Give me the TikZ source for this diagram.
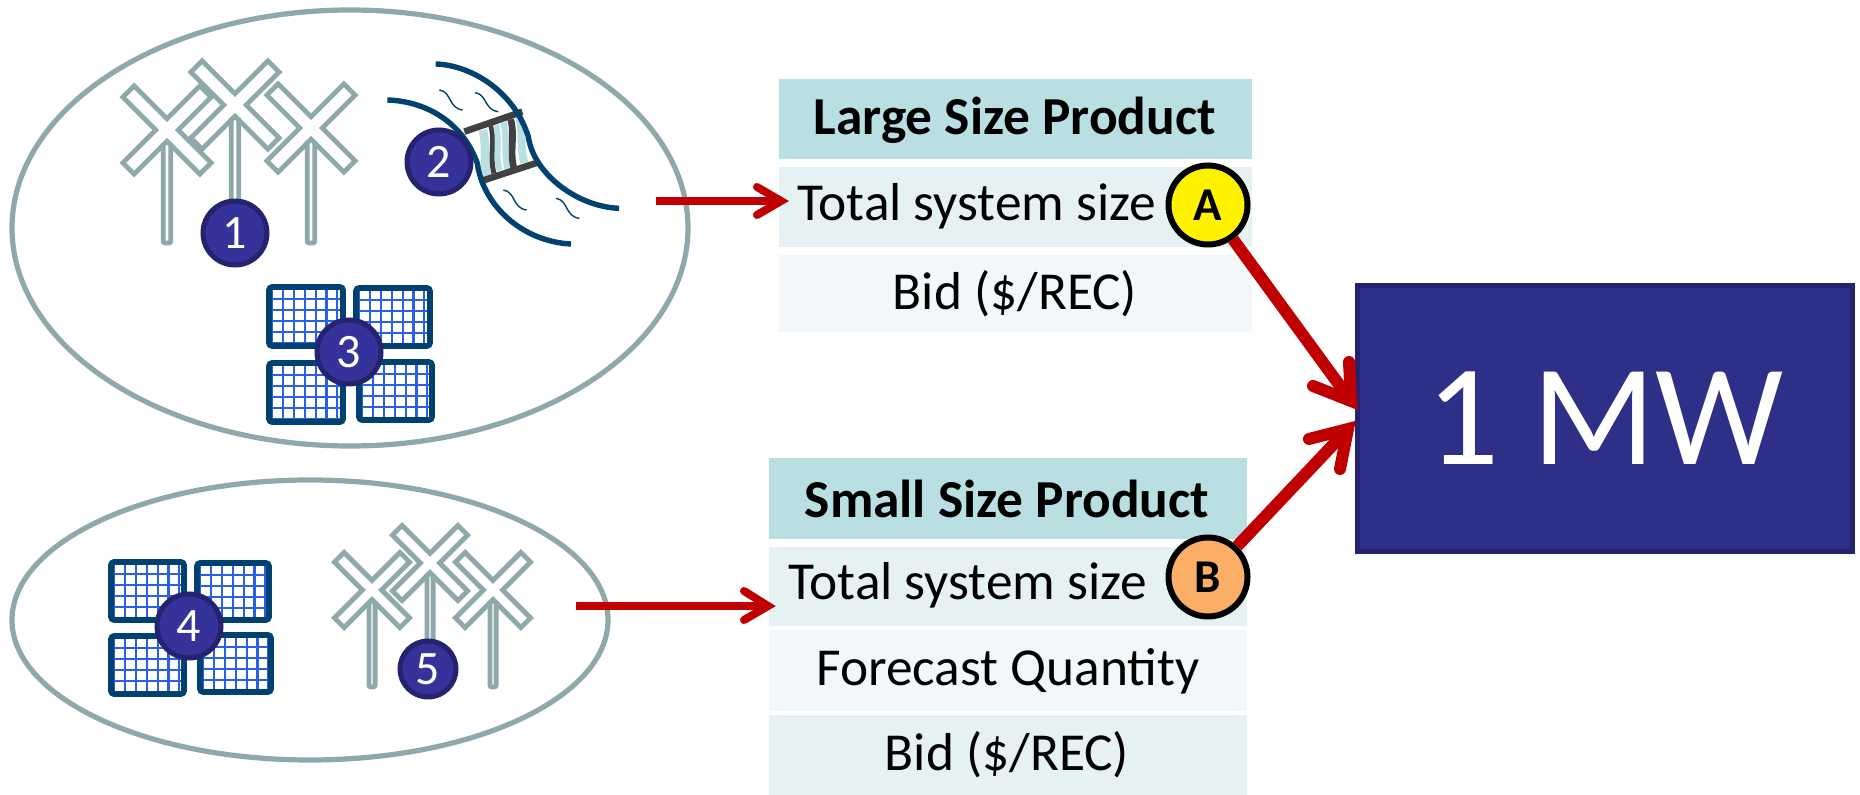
\documentclass[tikz,border=0pt]{standalone}
\usepackage{fontspec}
\setmainfont{Carlito}
\definecolor{grayline}{HTML}{8FA8AA}
\definecolor{navyline}{HTML}{00416F}
\definecolor{gridblue}{HTML}{2B5FE6}
\definecolor{badgefill}{HTML}{353399}
\definecolor{badgeline}{HTML}{25226F}
\definecolor{boxfill}{HTML}{2E3087}
\definecolor{hdr}{HTML}{B9DFE2}
\definecolor{rowa}{HTML}{E6F1F3}
\definecolor{rowb}{HTML}{F2F8FA}
\definecolor{arrowred}{HTML}{C00000}
\definecolor{dam}{HTML}{404040}
\definecolor{water}{HTML}{B9DFE2}
\definecolor{peach}{HTML}{FBAE66}
\newcommand{\turbine}[5]{% cx cy scale polebottom polegap
  \begin{scope}[shift={(#1,#2)}]
   \draw[grayline,line width=2.4pt,rounded corners=1pt] (-#5,13*#3) -- (-#5,#4-#2) -- (#5,#4-#2) -- (#5,13*#3);
   \begin{scope}[rotate=45,scale=#3]
    \draw[grayline,line width=2.4pt,miter limit=4]
     (-54.5,-8) -- (-8,-8) -- (-8,-54.5) -- (8,-54.5) -- (8,-8) -- (54.5,-8) -- (54.5,8) -- (8,8) -- (8,54.5) -- (-8,54.5) -- (-8,8) -- (-54.5,8) -- cycle;
   \end{scope}
  \end{scope}}
\newcommand{\panel}[4]{% x0 y0 x1 y1
  \begin{scope}
   \clip (#1,#2) rectangle (#3,#4);
   \fill[white] (#1,#2) rectangle (#3,#4);
   \foreach \k in {0,...,7} {
     \draw[gridblue,line width=1.05pt] ({#1+3+10.9*\k},#2) -- ({#1+3+10.9*\k},#4);
     \draw[gridblue,line width=1.05pt] (#1,{#2+1.5+10.9*\k}) -- (#3,{#2+1.5+10.9*\k});
   }
  \end{scope}
  \draw[navyline,line width=2.8pt,rounded corners=1.5pt] (#1,#2) rectangle (#3,#4);}
\newcommand{\damstrip}[6]{% colour x0 y0 x1 y1 width
  \draw[#1,line width=#6*0.16667pt] (#2,#3) .. controls ({#2+14},{#3+50}) and ({#4-14},{#5-50}) .. (#4,#5);}
\tikzset{
  badge/.style={circle,draw=badgeline,fill=badgefill,line width=2.5pt,text=white,font=\fontsize{24}{24}\selectfont,inner sep=0pt,minimum size=#1},
  letter/.style={circle,draw=black,line width=3pt,font=\fontsize{23.5}{23.5}\selectfont\bfseries,inner sep=0pt,minimum size=39.5pt},
  bodytext/.style={inner sep=0pt,font=\fontsize{26.7}{26.7}\selectfont},
  headtext/.style={inner sep=0pt,font=\fontsize{26.7}{26.7}\selectfont\bfseries},
  thinarrow/.style={arrowred,line width=4pt},
  thinbarb/.style={arrowred,line width=4pt,line cap=round,miter limit=10},
  bigarrow/.style={arrowred,line width=6pt},
  bigbarb/.style={arrowred,line width=6pt,line cap=round,miter limit=10},
  wave/.style={navyline,line width=.7pt},
  bank/.style={navyline,line width=2.7pt},
}
\begin{document}
\begin{tikzpicture}[x=.5pt,y=-.5pt]
\useasboundingbox (0,0) rectangle (1860,795);
% ovals
\draw[grayline,line width=2.6pt] (350,228) ellipse [x radius=338,y radius=218];
\draw[grayline,line width=2.6pt] (310,620) ellipse [x radius=298,y radius=140];
% turbines group 1
\turbine{167}{130}{1}{243}{3.8}
\turbine{235}{105}{1}{243}{3.8}
\turbine{311}{128}{1}{243}{3.8}
% turbines group 5
\turbine{372}{590}{.85}{687}{3.1}
\turbine{430}{563}{.85}{687}{3.1}
\turbine{493}{590}{.85}{687}{3.1}
% solar group 3
\panel{269}{287}{343}{346}
\panel{356}{288}{430}{346}
\panel{269}{363}{343}{422}
\panel{359}{362}{432}{420}
% solar group 4
\panel{111}{562}{184}{620}
\panel{197}{563}{269}{620}
\panel{111}{636}{184}{694}
\panel{200}{635}{271}{692}
% dam, in crop coordinates
\begin{scope}[shift={(380,40)},x=.16667pt,y=-.16667pt]
\damstrip{water}{308}{270}{322}{408}{26}
\damstrip{dam}{332}{255}{342}{400}{15}
\damstrip{water}{347}{252}{359}{392}{18}
\damstrip{water}{370}{246}{384}{388}{20}
\damstrip{dam}{392}{238}{402}{385}{20}
\damstrip{water}{416}{224}{433}{368}{24}
\draw[dam,line width=3.3pt] (253,275) -- (427,215);
\draw[dam,line width=3.3pt] (298,425) -- (472,368);
\draw[bank] (22,180) .. controls (130,183) and (245,240) .. (292,370) .. controls (310,500) and (430,605) .. (573,612);
\draw[bank] (167,72) .. controls (270,75) and (400,150) .. (445,290) .. controls (460,400) and (590,500) .. (717,505);
\draw[wave] (178,150) .. controls (215,155) and (205,205) .. (248,210);
\draw[wave] (285,158) .. controls (322,163) and (312,210) .. (355,215);
\draw[wave] (370,450) .. controls (407,455) and (397,505) .. (440,510);
\draw[wave] (528,475) .. controls (565,480) and (555,530) .. (598,535);
\end{scope}
% table 1
\fill[hdr] (779,79) rectangle (1252,159);
\fill[rowa] (779,167) rectangle (1252,247);
\fill[rowb] (779,255) rectangle (1252,332);
\node[headtext] (t1h) at (1015,120) {Large Size Product};
\node[bodytext,anchor=west] (t1a) at (797,206) {Total system size};
\node[bodytext] (t1b) at (1015,294) {Bid (\$/REC)};
% table 2
\fill[hdr] (769,458) rectangle (1247,539);
\fill[rowa] (769,547) rectangle (1247,626);
\fill[rowb] (769,630) rectangle (1247,711);
\fill[rowa] (769,715) rectangle (1247,795);
\node[headtext] (t2h) at (1007,499) {Small Size Product};
\node[bodytext,anchor=west] (t2a) at (788,585) {Total system size};
\node[bodytext] (t2f) at (1008,671) {Forecast Quantity};
\node[bodytext] (t2b) at (1007,755) {Bid (\$/REC)};
% box
\node[draw=badgeline,fill=boxfill,line width=2.5pt,text=white,font=\fontsize{72}{72}\selectfont,minimum width=247.5pt,minimum height=133pt,inner sep=0pt] (mw) at (1605,418.5) {\raisebox{-3pt}{1 MW}};
% badges
\node[badge=32pt] (b1) at (235,233) {1};
\node[badge=32pt] (b2) at (439,162) {2};
\node[badge=32pt] (b3) at (349,352) {3};
\node[badge=32pt] (b4) at (189,626) {4};
\node[badge=28pt] (b5) at (428,669) {5};
\node[letter,fill=yellow] (A) at (1208,205) {A};
\node[letter,fill=peach] (B) at (1208,577) {B};
% thin arrows
\coordinate (s1) at (656,201);
\coordinate (e1) at (781,201);
\coordinate (u1) at (757,187);
\coordinate (d1) at (757,215);
\coordinate (s2) at (576,606);
\coordinate (e2) at (768,606);
\coordinate (u2) at (744,591);
\coordinate (d2) at (744,620);
\draw[thinarrow] (s1) -- (e1);
\draw[thinbarb] (u1) -- (e1) -- (d1);
\draw[thinarrow] (s2) -- (e2);
\draw[thinbarb] (u2) -- (e2) -- (d2);
% big arrows
\coordinate (ta) at (1351,401);
\coordinate (ua) at (1349,362);
\coordinate (da) at (1313,386);
\coordinate (tb) at (1348,429);
\coordinate (ub) at (1309,439);
\coordinate (db) at (1340,469);
\draw[bigarrow] (A) -- (ta);
\draw[bigbarb] (ua) -- (ta) -- (da);
\draw[bigarrow] (B) -- (tb);
\draw[bigbarb] (ub) -- (tb) -- (db);
\end{tikzpicture}
\end{document}
